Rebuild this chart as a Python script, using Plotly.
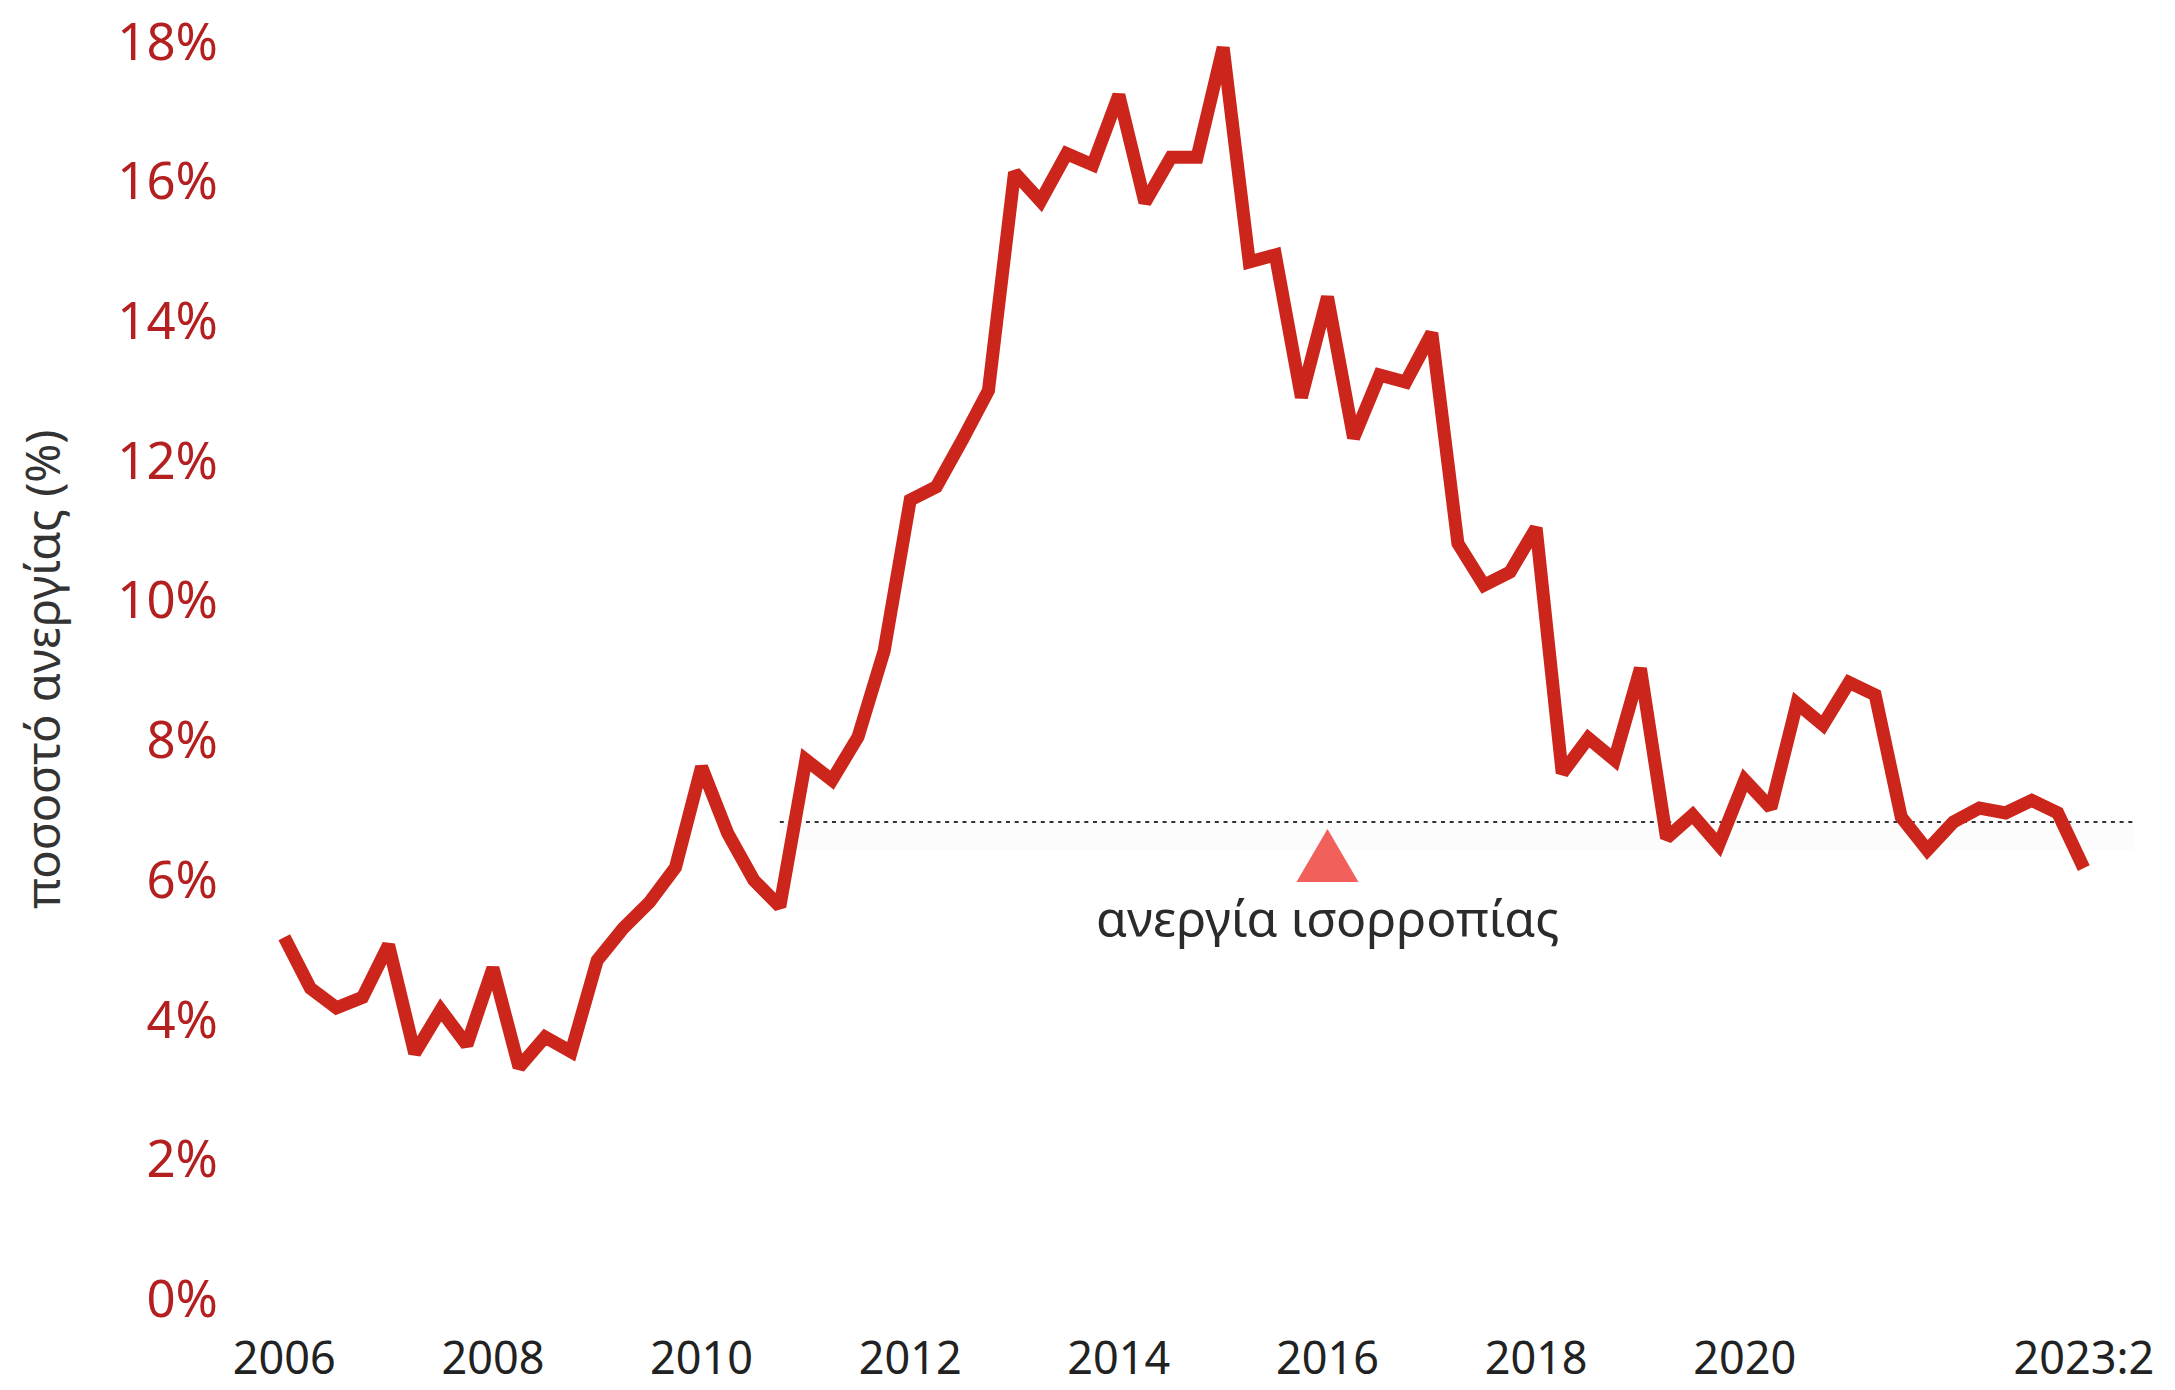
import plotly.graph_objects as go

# ---- data ----
quarters = [f"{y}:{q}" for y in range(2006, 2024) for q in range(1, 5)][:70]  # 2006:1 .. 2023:2
unemployment = [
    5.18, 4.45, 4.17, 4.32, 5.07, 3.52, 4.14, 3.64, 4.74, 3.32,
    3.75, 3.54, 4.85, 5.31, 5.68, 6.18, 7.62, 6.67, 6.00, 5.62,
    7.72, 7.43, 8.05, 9.28, 11.44, 11.63, 12.30, 13.01, 16.13, 15.72,
    16.40, 16.24, 17.24, 15.70, 16.35, 16.35, 17.92, 14.85, 14.95, 12.91,
    14.35, 12.33, 13.23, 13.13, 13.83, 10.82, 10.22, 10.41, 11.04, 7.53,
    8.03, 7.72, 9.03, 6.60, 6.93, 6.50, 7.43, 7.03, 8.53, 8.22,
    8.83, 8.65, 6.90, 6.43, 6.83, 7.03, 6.96, 7.14, 6.96, 6.17,
]
x_idx = list(range(len(unemployment)))

nairu_value = 6.83
nairu_band_low = 6.42
nairu_span = [19.0, 70.9]          # quarter index where the line starts/ends
marker_q = 40                      # 2016:1
label_value = 5.45
label_text = "ανεργία ισορροπίας"

x_tickvals = [0, 8, 16, 24, 32, 40, 48, 56, 69]
x_ticktext = ["2006", "2008", "2010", "2012", "2014", "2016", "2018", "2020", "2023:2"]
y_tickvals = [0, 2, 4, 6, 8, 10, 12, 14, 16, 18]
y_ticktext = [f"{v}%" for v in y_tickvals]

FONT = "Noto Sans"
LINE_RED = "#cc251b"
TICK_RED = "#b3201f"

fig = go.Figure()

# faint band under the equilibrium line
fig.add_trace(go.Scatter(
    x=[nairu_span[0], nairu_span[1], nairu_span[1], nairu_span[0]],
    y=[nairu_value, nairu_value, nairu_band_low, nairu_band_low],
    fill="toself", fillcolor="rgba(0,0,0,0.012)", line=dict(width=0),
    mode="lines", hoverinfo="skip", showlegend=False,
))
# dotted equilibrium line
fig.add_trace(go.Scatter(
    x=nairu_span, y=[nairu_value, nairu_value], mode="lines",
    line=dict(color="#333333", width=2.2, dash="4px,4.7px"),
    hoverinfo="skip", showlegend=False,
))
# unemployment series
fig.add_trace(go.Scatter(
    x=x_idx, y=unemployment, mode="lines", text=quarters,
    line=dict(color=LINE_RED, width=13),
    hovertemplate="%{text}: %{y:.1f}%<extra></extra>", showlegend=False,
))

# triangle pointer (size in pixels, anchored at the equilibrium line)
fig.add_shape(
    type="path", xref="x", yref="y",
    xsizemode="pixel", ysizemode="pixel",
    xanchor=marker_q, yanchor=nairu_value,
    path="M-31,-60 L31,-60 L0,-7 Z",
    fillcolor="#f1605b", line=dict(width=0), layer="above",
)

fig.add_annotation(
    x=marker_q, y=label_value, text=label_text, showarrow=False,
    xanchor="center", yanchor="middle",
    font=dict(family=FONT, size=50, color="#2b2b2b"),
)
fig.add_annotation(
    xref="paper", yref="paper", x=-0.1092, y=0.4903,
    text="ποσοστό ανεργίας (%)", textangle=-90, showarrow=False,
    xanchor="center", yanchor="middle",
    font=dict(family=FONT, size=47, color="#333333"),
)

fig.update_layout(
    width=2175, height=1390,
    margin=dict(l=242, r=28, t=6, b=99, autoexpand=False),
    paper_bgcolor="white", plot_bgcolor="white",
    font=dict(family=FONT),
)
fig.update_xaxes(
    range=[-1.315, 71.73], tickmode="array", tickvals=x_tickvals, ticktext=x_ticktext,
    showgrid=False, zeroline=False, showline=False, ticks="", automargin=False,
    tickfont=dict(family=FONT, size=45, color="#222222"),
    ticklabelstandoff=29, ticklabeloverflow="allow",
)
fig.update_yaxes(
    range=[0, 18.4], tickmode="array", tickvals=y_tickvals, ticktext=y_ticktext,
    showgrid=False, zeroline=False, showline=False, ticks="", automargin=False,
    tickfont=dict(family=FONT, size=51, color=TICK_RED),
    ticklabelstandoff=31, ticklabeloverflow="allow",
)

fig.write_html("out.html")
